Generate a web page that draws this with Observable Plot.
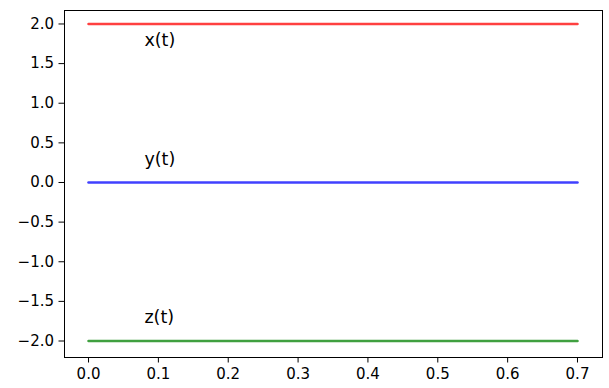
<!DOCTYPE html>
<html>
<head>
<meta charset="utf-8">
<script src="https://cdn.jsdelivr.net/npm/d3@7"></script>
<script src="https://cdn.jsdelivr.net/npm/@observablehq/plot@0.6"></script>
<style>
  html, body { margin: 0; padding: 0; background: #fff; }
  svg { display: block; }
</style>
</head>
<body>
<div id="chart"></div>
<script>
// Data
const tValues = [0.0, 0.7];
const seriesNames = ["x(t)", "y(t)", "z(t)"];
const seriesLevels = [2.0, 0.0, -2.0];
const seriesColors = ["#ff0000", "#0000ff", "#008000"];
const labelT = [0.08, 0.08, 0.08];
const labelY = [1.75, 0.25, -1.75];
const xTicks = [0.0, 0.1, 0.2, 0.3, 0.4, 0.5, 0.6, 0.7];
const yTicks = [-2.0, -1.5, -1.0, -0.5, 0.0, 0.5, 1.0, 1.5, 2.0];

const lineRows = [];
seriesNames.forEach((name, i) => {
  tValues.forEach(t => lineRows.push({series: name, t, v: seriesLevels[i]}));
});
const labelRows = seriesNames.map((name, i) => ({series: name, t: labelT[i], v: labelY[i]}));

const fmt = d => d.toFixed(1).replace("-", "\u2212");

const chart = Plot.plot({
  width: 609,
  height: 388,
  marginLeft: 64,
  marginRight: 7,
  marginTop: 10,
  marginBottom: 31,
  style: {fontFamily: "DejaVu Sans", fontSize: "15px", color: "#000", background: "#fff"},
  x: {domain: [-0.0344, 0.7358], ticks: xTicks, tickFormat: fmt, tickSize: 5.5, tickPadding: 5, label: null},
  y: {domain: [-2.208, 2.17], ticks: yTicks, tickFormat: fmt, tickSize: 5.5, tickPadding: 5, label: null},
  color: {domain: seriesNames, range: seriesColors},
  marks: [
    Plot.line(lineRows, {x: "t", y: "v", z: "series", stroke: "series", strokeWidth: 2.6, strokeOpacity: 0.75}),
    Plot.text(labelRows, {x: "t", y: "v", text: "series", textAnchor: "start", lineAnchor: "bottom", dy: 2, fontSize: 17.5, fill: "#000"}),
    Plot.frame({stroke: "#000", strokeWidth: 1})
  ]
});
document.getElementById("chart").appendChild(chart);
</script>
</body>
</html>
